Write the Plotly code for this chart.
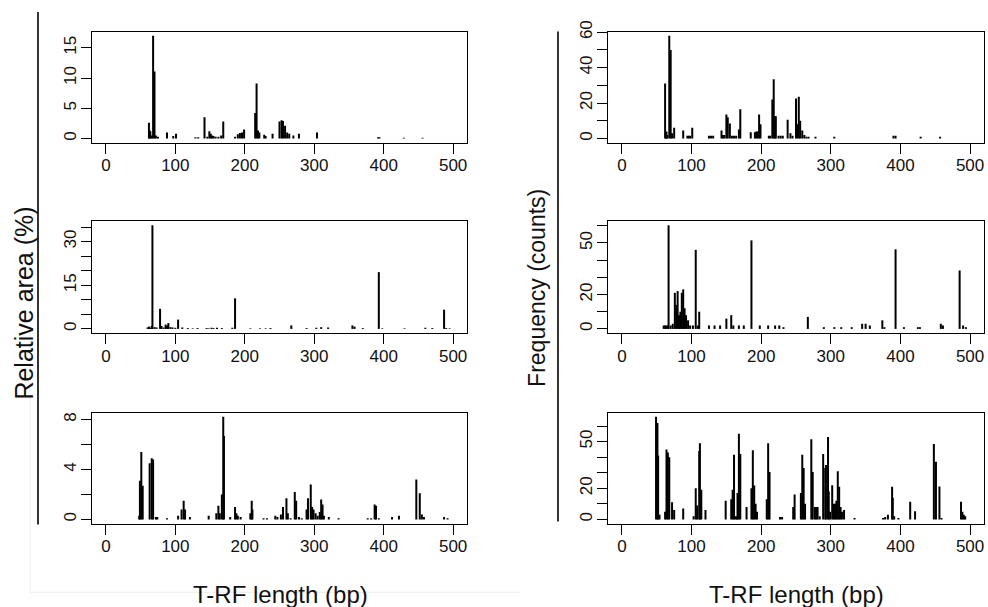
import plotly.graph_objects as go

# ---------------- T-RF profiles ----------------
# Relative peak area (%) per fragment length (bp)
area_top_bp = [62, 63, 64, 66, 68, 70, 72, 75, 88, 97,
               101, 129, 133, 142, 146, 149, 151, 153, 155, 158,
               162, 166, 169, 186, 190, 193, 196, 199, 215, 217,
               219, 221, 228, 230, 240, 250, 253, 255, 258, 261,
               264, 270, 278, 304, 392, 394, 429, 456]
area_top_pct = [2.6, 1.3, 1.2, 0.5, 17.0, 11.1, 0.5, 0.3, 1.0, 0.4,
                0.8, 0.2, 0.2, 3.5, 0.3, 1.2, 0.8, 0.5, 0.4, 0.3,
                0.3, 0.5, 2.8, 0.3, 0.7, 0.9, 1.0, 1.5, 4.2, 9.1,
                1.3, 1.0, 0.6, 0.4, 0.8, 2.8, 3.0, 2.9, 2.1, 1.0,
                0.8, 0.5, 0.8, 1.0, 0.2, 0.2, 0.1, 0.1]

area_mid_bp = [60, 62, 64, 66, 67, 70, 73, 78, 80, 83,
               86, 87, 89, 90, 93, 96, 100, 104, 110, 118,
               125, 132, 145, 148, 152, 155, 160, 167, 182, 186,
               208, 222, 230, 237, 267, 289, 303, 310, 320, 355,
               358, 370, 393, 398, 430, 460, 470, 487, 490, 495]
area_mid_pct = [0.5, 0.8, 0.4, 1.0, 35.6, 0.6, 0.5, 6.9, 1.0, 0.5,
                1.5, 1.0, 1.2, 2.0, 0.6, 0.5, 0.4, 3.2, 0.5, 0.3,
                0.2, 0.3, 0.3, 0.2, 0.4, 0.3, 0.4, 0.3, 0.4, 10.5,
                0.2, 0.2, 0.2, 0.3, 1.2, 0.3, 0.4, 0.6, 0.5, 1.2,
                0.8, 0.3, 19.5, 0.2, 0.2, 0.4, 0.3, 6.6, 0.3, 0.2]

area_bot_bp = [48, 49, 51, 53, 63, 66, 68, 72, 74, 88,
               104, 109, 112, 114, 121, 148, 159, 162, 164, 167,
               169, 170, 179, 186, 188, 190, 194, 208, 210, 211,
               227, 232, 244, 247, 252, 255, 260, 262, 266, 272,
               274, 278, 282, 289, 291, 295, 297, 299, 302, 305,
               308, 310, 312, 314, 321, 335, 377, 382, 387, 389,
               393, 412, 422, 447, 452, 455, 458, 487, 492]
area_bot_pct = [0.3, 3.1, 5.4, 2.7, 4.5, 4.9, 4.8, 0.2, 0.2, 0.1,
                0.3, 0.8, 1.5, 0.8, 0.2, 0.3, 0.5, 1.1, 0.5, 2.0,
                8.24, 6.7, 0.2, 1.0, 0.5, 0.3, 0.2, 0.5, 1.5, 0.8,
                0.1, 0.1, 0.3, 0.2, 0.4, 1.0, 1.7, 0.5, 0.1, 2.2,
                1.5, 0.2, 0.1, 0.8, 1.7, 2.8, 1.0, 0.8, 0.5, 0.3,
                0.6, 1.6, 1.2, 0.3, 0.2, 0.1, 0.1, 0.1, 1.2, 1.1,
                0.1, 0.2, 0.3, 3.2, 2.1, 0.4, 0.2, 0.2, 0.1]

# Frequency (counts) per fragment length (bp)
freq_top_bp = [62, 63, 64, 65, 68, 70, 72, 75, 88, 94,
               96, 98, 101, 125, 128, 131, 143, 145, 147, 150,
               152, 155, 158, 161, 164, 168, 170, 185, 191, 193,
               195, 197, 199, 211, 213, 216, 218, 220, 221, 225,
               228, 231, 238, 242, 245, 250, 252, 254, 256, 259,
               262, 265, 268, 278, 305, 390, 393, 429, 457]
freq_top_n = [31, 3, 4, 2, 58, 50, 3, 6, 4.5, 1.5,
              1.5, 1.5, 6, 1.5, 1.5, 1.5, 4.5, 2, 2, 13.5,
              12, 8.5, 1.5, 1.5, 1.5, 5, 16.5, 3.5, 3.5, 4,
              4, 13.5, 8, 1.5, 1.5, 22, 33.5, 12.5, 12.5, 1.5,
              1.5, 1.5, 10.5, 3, 1.5, 22.5, 8, 23.5, 10, 4.5,
              2, 1, 1, 1, 1, 1.5, 1.5, 1, 1]

freq_mid_bp = [60, 62, 64, 66, 67, 70, 73, 76, 78, 80,
               82, 84, 86, 88, 90, 92, 95, 98, 102, 106,
               109, 111, 125, 133, 141, 150, 157, 160, 168, 175,
               186, 198, 210, 220, 226, 232, 267, 290, 305, 315,
               330, 345, 350, 356, 374, 377, 393, 405, 425, 428,
               458, 461, 485, 490, 494]
freq_mid_n = [2, 2, 2, 2, 60.3, 2, 3, 21, 14, 22,
              8, 10, 21, 23, 12, 8, 5, 2, 2, 46,
              2, 10, 2, 2, 2, 6, 8, 2, 2, 2,
              51.5, 2, 2, 2, 2, 1, 7, 1, 1, 1,
              1, 3, 3, 2, 5, 1, 46.3, 1, 1, 1,
              3, 2, 34, 2, 1]

freq_bot_bp = [49, 51, 52, 54, 62, 64, 66, 68, 72, 75,
               88, 103, 106, 108, 111, 112, 114, 120, 149, 157,
               159, 161, 163, 165, 166, 168, 170, 179, 186, 188,
               190, 192, 194, 208, 210, 212, 227, 230, 246, 248,
               257, 259, 261, 263, 272, 274, 277, 279, 281, 284,
               289, 292, 293, 296, 297, 299, 302, 304, 306, 308,
               310, 312, 314, 316, 319, 334, 375, 378, 382, 388,
               389, 391, 397, 414, 421, 448, 451, 456, 459, 487,
               489, 491, 493]
freq_bot_n = [66, 62, 41, 3, 5, 45, 43, 40, 11, 6,
              7, 2, 20, 9, 44, 49, 19, 6, 12, 13,
              19, 41.5, 2, 2, 17, 55, 42, 8, 20, 44.5,
              21.8, 10, 5, 13, 49, 30.5, 1.5, 1.5, 8, 16,
              17, 41.5, 33, 10, 51.5, 30.5, 8, 8, 8, 2,
              42, 33, 35, 53, 18, 5, 22, 10, 10, 12,
              31, 21, 8, 5, 6, 1, 1, 1.5, 3, 21,
              14, 2, 1, 11.3, 5.3, 48.4, 37, 21.2, 1, 11.3,
              5, 3, 2]

x_ticks = [0, 100, 200, 300, 400, 500]

# y ticks per panel, with the labels that are printed
yt_area_top = [0, 5, 10, 15]
yl_area_top = ["0", "5", "10", "15"]
yt_area_mid = [0, 5, 10, 15, 20, 25, 30, 35]
yl_area_mid = ["0", "", "", "15", "", "", "30", ""]
yt_area_bot = [0, 2, 4, 6, 8]
yl_area_bot = ["0", "", "4", "", "8"]
yt_freq_top = [0, 10, 20, 30, 40, 50, 60]
yl_freq_top = ["0", "", "20", "", "40", "", "60"]
yt_freq_mid = [0, 10, 20, 30, 40, 50, 60]
yl_freq_mid = ["0", "", "20", "", "", "50", ""]
yt_freq_bot = [0, 10, 20, 30, 40, 50, 60]
yl_freq_bot = ["0", "", "20", "", "", "50", ""]

# ---------------- layout geometry (pixels) ----------------
W, H = 988, 607
FONT = "Liberation Sans, Arial, Helvetica, sans-serif"
COLS = [(92, 467), (608, 984)]
ROWS = [(21, 134), (214, 328), (409, 522)]

panels = [
    (area_top_bp, area_top_pct, yt_area_top, yl_area_top, 0, 0),
    (area_mid_bp, area_mid_pct, yt_area_mid, yl_area_mid, 0, 1),
    (area_bot_bp, area_bot_pct, yt_area_bot, yl_area_bot, 0, 2),
    (freq_top_bp, freq_top_n, yt_freq_top, yl_freq_top, 1, 0),
    (freq_mid_bp, freq_mid_n, yt_freq_mid, yl_freq_mid, 1, 1),
    (freq_bot_bp, freq_bot_n, yt_freq_bot, yl_freq_bot, 1, 2),
]


def spikes(bp, val):
    """Vertical lines from zero up to each value (histogram-like 'h' plot)."""
    xs, ys = [], []
    for b, v in zip(bp, val):
        xs += [b, b, None]
        ys += [0, v, None]
    return xs, ys


fig = go.Figure()
layout = {}
for i, (bp, val, yt, yl, col, row) in enumerate(panels, start=1):
    sfx = "" if i == 1 else str(i)
    xs, ys = spikes(bp, val)
    fig.add_trace(go.Scatter(
        x=xs, y=ys, mode="lines",
        line=dict(color="black", width=2),
        xaxis="x" + sfx, yaxis="y" + sfx,
        hoverinfo="skip", showlegend=False,
    ))
    x0, x1 = COLS[col]
    top, bot = ROWS[row]
    ymax = max(val)
    common = dict(
        showline=True, mirror=True, linecolor="black", linewidth=1.4,
        ticks="outside", ticklen=10, tickwidth=1.4, tickcolor="black",
        showgrid=False, zeroline=False,
        tickfont=dict(family=FONT, size=17, color="#111111"),
    )
    layout["xaxis" + sfx] = dict(
        common, domain=[x0 / W, x1 / W], anchor="y" + sfx,
        range=[-20, 520], tickvals=x_ticks,
        ticktext=[str(t) for t in x_ticks], ticklabelstandoff=-3,
    )
    layout["yaxis" + sfx] = dict(
        common, domain=[1 - bot / H, 1 - top / H], anchor="x" + sfx,
        range=[-0.04 * ymax, 1.04 * ymax], tickvals=yt, ticktext=yl,
        tickangle=-90, ticklabelstandoff=-2,
    )

fig.update_layout(**layout)

annotations = [
    dict(text="Relative area (%)", x=24 / W, y=1 - 298 / H, textangle=-90,
         size=25),
    dict(text="Frequency (counts)", x=537 / W, y=1 - 282 / H, textangle=-90,
         size=23),
    dict(text="T-RF length (bp)", x=280 / W, y=1 - 594 / H, textangle=0,
         size=24),
    dict(text="T-RF length (bp)", x=796 / W, y=1 - 594 / H, textangle=0,
         size=24),
]
for a in annotations:
    size = a.pop("size")
    a.update(xref="paper", yref="paper", showarrow=False,
             xanchor="center", yanchor="middle",
             font=dict(family=FONT, size=size, color="#111111"))

shapes = [
    # outer vertical rules beside the axis titles
    dict(type="line", xref="paper", yref="paper",
         x0=38 / W, x1=38 / W, y0=1 - 1 / H, y1=1 - 523 / H,
         line=dict(color="black", width=1.6)),
    dict(type="line", xref="paper", yref="paper",
         x0=558 / W, x1=558 / W, y0=1 - 21 / H, y1=1 - 520 / H,
         line=dict(color="black", width=1.6)),
    # faint frame of the left figure
    dict(type="line", xref="paper", yref="paper",
         x0=30 / W, x1=30 / W, y0=1 - 300 / H, y1=1 - 592 / H,
         line=dict(color="#ececec", width=1)),
    dict(type="line", xref="paper", yref="paper",
         x0=30 / W, x1=520 / W, y0=1 - 592 / H, y1=1 - 592 / H,
         line=dict(color="#ececec", width=1)),
]

fig.update_layout(
    width=W, height=H, autosize=False,
    margin=dict(l=0, r=0, t=0, b=0),
    paper_bgcolor="white", plot_bgcolor="white",
    annotations=annotations, shapes=shapes,
    font=dict(family=FONT),
)

fig.write_html("out.html")
